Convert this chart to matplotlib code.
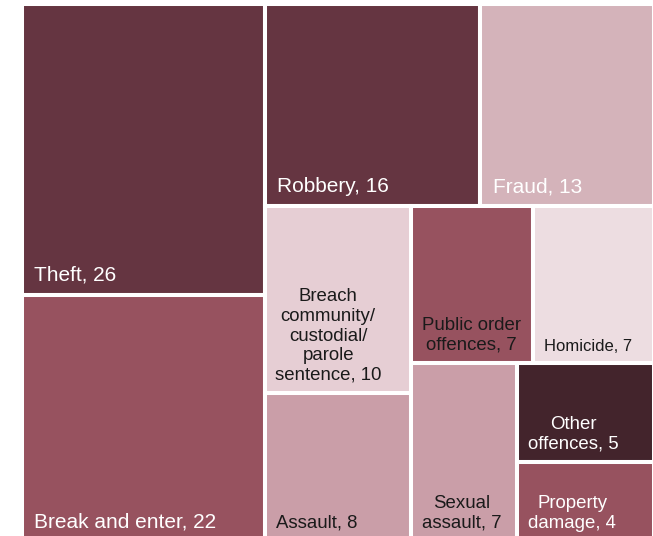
import matplotlib.pyplot as plt
from matplotlib.patches import Rectangle

plt.rcParams['font.family'] = ['Liberation Sans', 'DejaVu Sans']

# offences and counts, largest first
labels = ['Theft', 'Break and enter', 'Robbery', 'Fraud',
          'Breach\ncommunity/\ncustodial/\nparole\nsentence', 'Assault',
          'Public order\noffences', 'Homicide', 'Sexual\nassault',
          'Other\noffences', 'Property\ndamage']
values = [26, 22, 16, 13, 10, 8, 7, 7, 7, 5, 4]
colors = ['#653541', '#97525f', '#653541', '#d4b3ba', '#e6ced4', '#ca9ea8',
          '#97525f', '#eddde1', '#ca9ea8', '#43242c', '#97525f']
text_colors = ['white', 'white', 'white', 'white', '#1a1a1a', '#1a1a1a',
               '#1a1a1a', '#1a1a1a', '#1a1a1a', 'white', 'white']
font_sizes = [15, 15, 15, 15, 13.4, 13.4, 13.4, 12, 13.4, 13.4, 13.4]
# label offset from the bottom-left corner of each box, in pixels
label_pad = [(12, 11), (12, 10), (12, 10), (13, 10), (10, 9), (11, 10),
             (11, 9), (11, 9), (11, 10), (11, 10), (11, 10)]

W, H = 632.0, 538.5


def worst(row, side):
    s = sum(row)
    return max(max(side * side * r / (s * s), s * s / (side * side * r)) for r in row)


def squarify(vals, x, y, w, h):
    total = sum(vals)
    vals = [v * w * h / total for v in vals]
    rects = []
    while vals:
        side = min(w, h)
        row = [vals[0]]
        i = 1
        while i < len(vals) and worst(row + [vals[i]], side) <= worst(row, side):
            row.append(vals[i])
            i += 1
        s = sum(row)
        if w >= h:
            cw = s / h
            yy = y
            for v in row:
                rects.append((x, yy, cw, v / cw))
                yy += v / cw
            x += cw
            w -= cw
        else:
            rh = s / w
            xx = x
            for v in row:
                rects.append((xx, y, v / rh, rh))
                xx += v / rh
            y += rh
            h -= rh
        vals = vals[i:]
    return rects


fig = plt.figure(figsize=(6.53, 5.36), dpi=100)
ax = fig.add_axes([22.3 / 653, (536 - 542) / 536, W / 653, H / 536])
ax.set_xlim(0, W)
ax.set_ylim(H, 0)
ax.axis('off')

rects = squarify(values, 0, 0, W, H)
for (x, y, w, h), lab, v, c, tc, fs, (px, py) in zip(rects, labels, values, colors,
                                                    text_colors, font_sizes, label_pad):
    ax.add_patch(Rectangle((x, y), w, h, facecolor=c, edgecolor='white', linewidth=2.9))
    ax.annotate(f'{lab}, {v}', xy=(x, y + h), xytext=(px * 0.72, py * 0.72),
                textcoords='offset points', ha='left', va='bottom',
                multialignment='center', color=tc, fontsize=fs)

fig.savefig('out.png', dpi=100)
